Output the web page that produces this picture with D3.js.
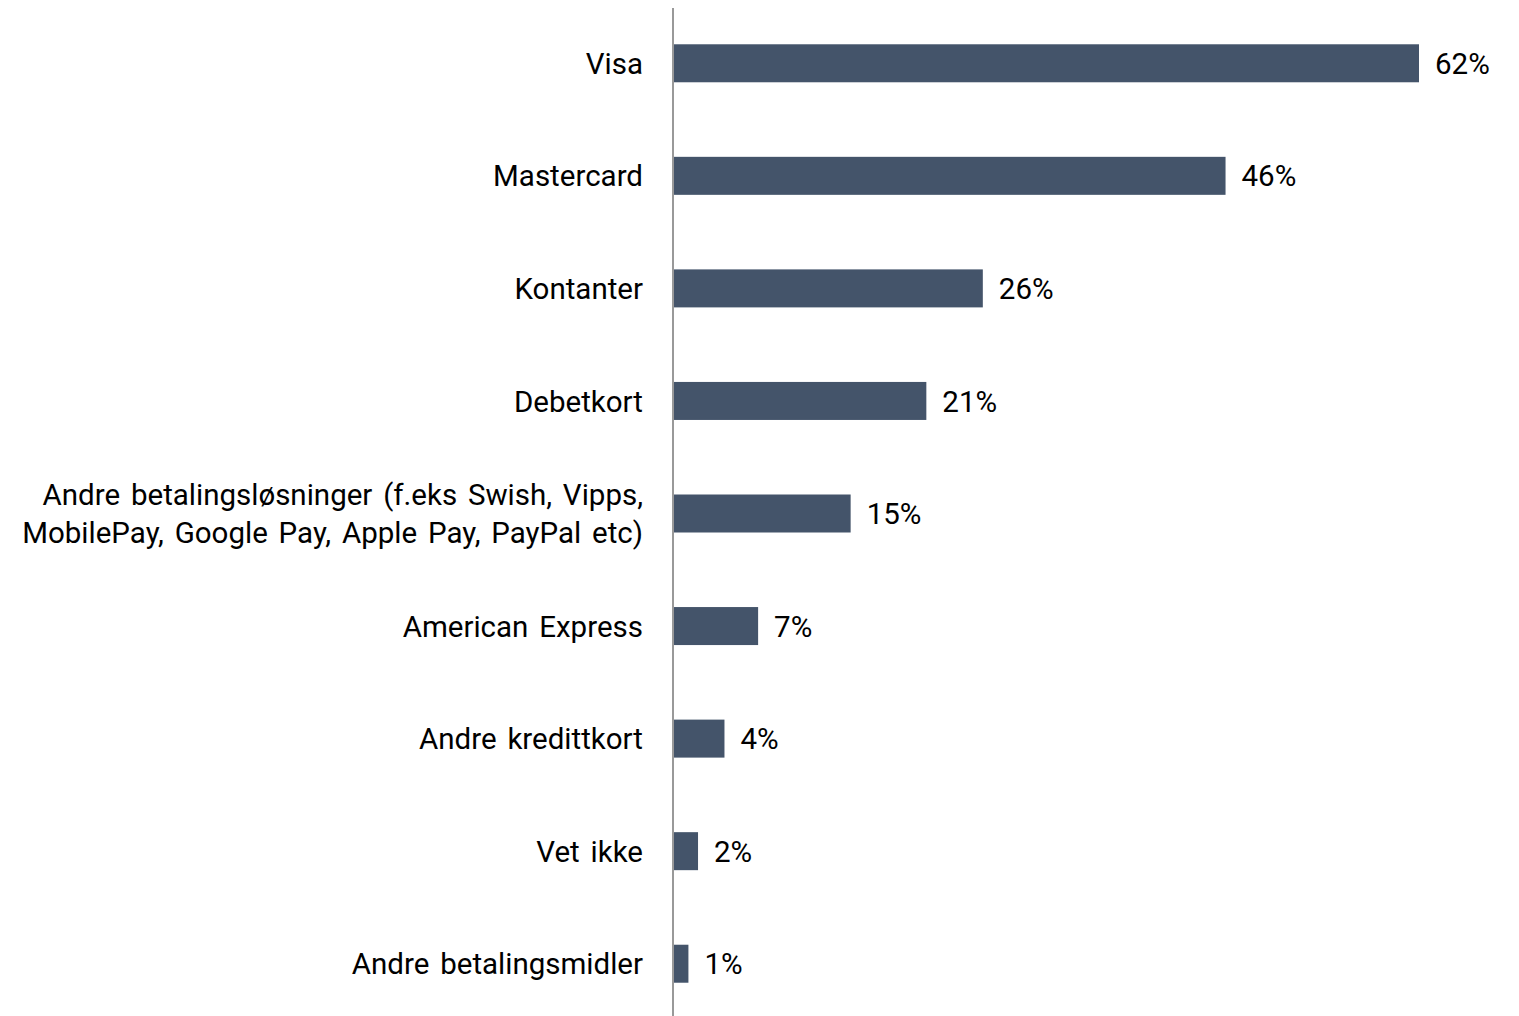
<!DOCTYPE html>
<head>
  <meta charset="utf-8">
  <script src="https://d3js.org/d3.v7.min.js"></script>
  <style>
    body { margin:0; background:#fff; }
    text { font-family: Roboto, "Noto Sans", sans-serif; fill:#000; }
  </style>
</head>
<body>
<script>
  // data (bar lengths, labels are rounded)
  var categories = ["Visa", "Mastercard", "Kontanter", "Debetkort",
    "Andre betalingsløsninger (f.eks Swish, Vipps,|MobilePay, Google Pay, Apple Pay, PayPal etc)",
    "American Express", "Andre kredittkort", "Vet ikke", "Andre betalingsmidler"];
  var values = [62, 45.9, 25.7, 21, 14.7, 7, 4.2, 2, 1.2];

  var W = 1519, H = 1016;
  var svg = d3.select("body").append("svg")
      .attr("width", W).attr("height", H);

  var x = d3.scaleLinear().domain([0, 62]).range([674, 1419]);
  var y = d3.scaleBand().domain(d3.range(categories.length)).range([7, 1020]);
  var barH = 38;

  // bars
  svg.selectAll("rect.bar").data(values).enter().append("rect")
    .attr("class", "bar")
    .attr("x", x(0))
    .attr("y", function(d, i) { return y(i) + y.bandwidth() / 2 - barH / 2; })
    .attr("width", function(d) { return x(d) - x(0); })
    .attr("height", barH)
    .attr("fill", "#44546a");

  // axis line
  svg.append("line")
    .attr("x1", 673).attr("x2", 673)
    .attr("y1", 8).attr("y2", H)
    .attr("stroke", "#999").attr("stroke-width", 2);

  // value labels
  svg.selectAll("text.val").data(values).enter().append("text")
    .attr("class", "val")
    .attr("x", function(d) { return x(d) + 16; })
    .attr("y", function(d, i) { return y(i) + y.bandwidth() / 2; })
    .attr("dy", "0.36em")
    .style("font-size", "29.5px")
    .text(function(d) { return Math.round(d) + "%"; });

  // category labels
  var cl = svg.selectAll("text.cat").data(categories).enter().append("text")
    .attr("class", "cat")
    .attr("text-anchor", "end")
    .attr("y", function(d, i) { return y(i) + y.bandwidth() / 2; })
    .style("font-size", "29.5px")
    .style("word-spacing", "3.5px");
  cl.each(function(d) {
    var lines = d.split("|");
    var t = d3.select(this);
    lines.forEach(function(s, k) {
      t.append("tspan")
        .attr("x", 643)
        .attr("dy", k == 0 ? (0.36 - (lines.length - 1) * 0.645) + "em" : "1.29em")
        .text(s);
    });
  });
</script>
</body>
